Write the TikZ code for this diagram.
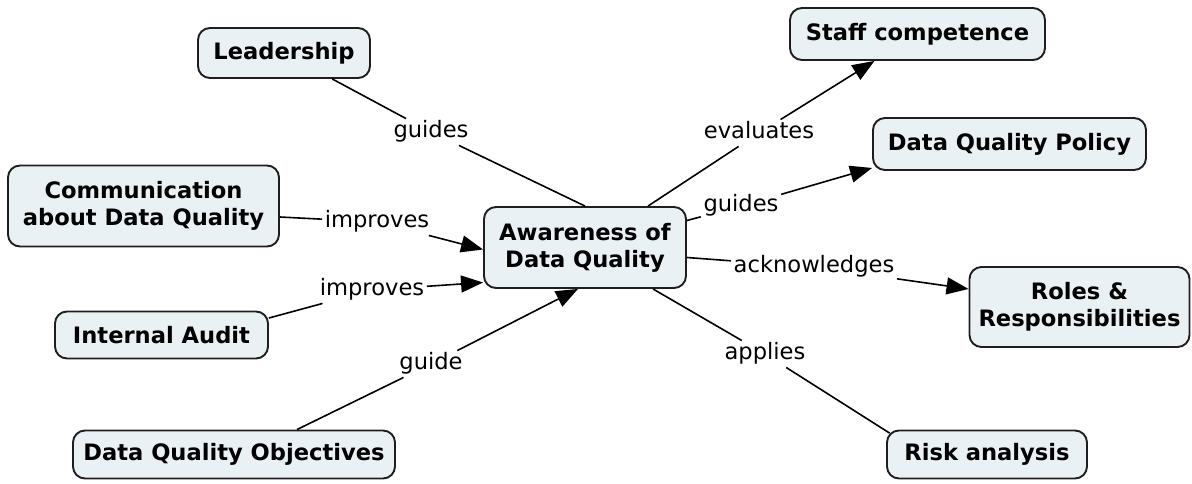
\documentclass[tikz,border=0pt]{standalone}
\usepackage{fontspec}
\setmainfont{DejaVu Sans}
\usetikzlibrary{arrows.meta,calc}
\definecolor{boxfill}{HTML}{EAF1F5}
\definecolor{boxline}{HTML}{1E1E1E}
\begin{document}
\begin{tikzpicture}[x=1pt,y=-1pt,
  box/.style={draw=boxline, line width=1.9pt, fill=boxfill, rounded corners=12pt,
    align=center, inner sep=0pt, font=\bfseries\fontsize{22.6}{27}\selectfont},
  lbl/.style={inner sep=2.5pt, font=\fontsize{22.6}{27}\selectfont, text height=16.5pt, text depth=5pt},
  link/.style={line width=1.6pt, draw=black},
  arr/.style={link, -{Triangle[length=22pt,width=17pt]}}]
\useasboundingbox (0,0) rectangle (1192,483);
% concepts
\node[box, minimum width=172pt, minimum height=50pt] (lead)  at (284,53)      {Leadership};
\node[box, minimum width=255pt, minimum height=52pt] (staff) at (917.5,34)    {Staff competence};
\node[box, minimum width=271pt, minimum height=81pt] (comm)  at (143.5,206)   {Communication\\about Data Quality};
\node[box, minimum width=273pt, minimum height=52pt] (dqp)   at (1009.5,144)  {Data Quality Policy};
\node[box, minimum width=202pt, minimum height=81pt] (aw)    at (585,247.5)   {Awareness of\\Data Quality};
\node[box, minimum width=220pt, minimum height=80pt] (roles) at (1079.5,307)  {Roles \&\\Responsibilities};
\node[box, minimum width=213pt, minimum height=47pt] (ia)    at (161.5,335)   {Internal Audit};
\node[box, minimum width=322pt, minimum height=48pt] (dqo)   at (234,454.5)   {Data Quality Objectives};
\node[box, minimum width=200pt, minimum height=48pt] (risk)  at (987,454.5)   {Risk analysis};
% linking phrases
\node[lbl] (l1) at (431,132) {guides};
\node[lbl] (l2) at (759,133) {evaluates};
\node[lbl] (l3) at (741,206) {guides};
\node[lbl] (l4) at (814,267) {acknowledges};
\node[lbl] (l5) at (765,354) {applies};
\node[lbl] (l6) at (431,364) {guide};
\node[lbl] (l7) at (377,222) {improves};
\node[lbl] (l8) at (372,290) {improves};
% connectors
\draw[link] (lead) -- (l1);
\draw[link] (l1) -- (aw.north);
\draw[link] ($(aw.north)+(63,0)$) -- (l2);
\draw[arr]  (l2) -- (staff);
\draw[link] ($(aw.east)+(0,-27)$) -- (l3);
\draw[arr]  (l3) -- ($(dqp.south west)+(0,-3)$);
\draw[link] ($(aw.east)+(0,10)$) -- (l4);
\draw[arr]  (l4) -- ($(roles.west)+(0,-18)$);
\draw[link] ($(aw.south)+(68,0)$) -- (l5);
\draw[link] (l5) -- ($(risk.north west)+(3.5,3.5)$);
\draw[link] ($(dqo.north)+(63,0)$) -- (l6);
\draw[arr]  (l6) -- ($(aw.south)+(-7,0)$);
\draw[link] ($(comm.east)+(0,11)$) -- (l7);
\draw[arr]  (l7) -- ($(aw.west)+(0,2)$);
\draw[link] ($(ia.east)+(0,-17)$) -- (l8);
\draw[arr]  (l8) -- ($(aw.west)+(0,35)$);
\end{tikzpicture}
\end{document}
